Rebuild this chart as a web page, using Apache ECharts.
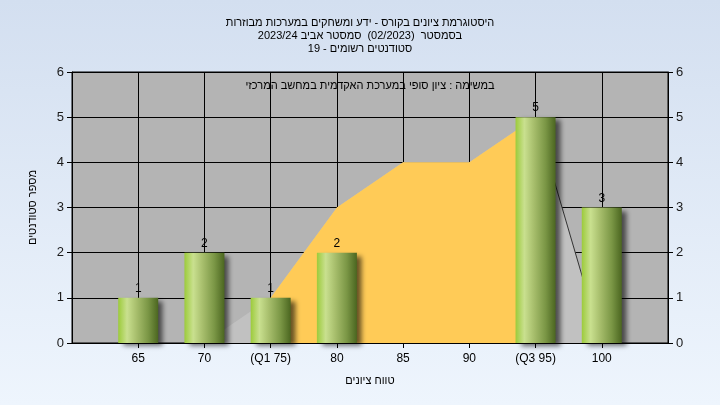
<!DOCTYPE html>
<html>
<head>
<meta charset="utf-8">
<script src="https://cdn.jsdelivr.net/npm/echarts@6/dist/echarts.min.js"></script>
<style>
html,body{margin:0;padding:0;}
#c{width:720px;height:405px;background:linear-gradient(to bottom,#d3dff0,#eef5fd);}
</style>
</head>
<body>
<div id="c"></div>
<script>
// ---- data ----
const scores = [65, 70, 75, 80, 85, 90, 95, 100];
const tickLabels = ['65', '70', '(Q1 75)', '80', '85', '90', '(Q3 95)', '100'];
const counts = [1, 2, 1, 2, 0, 0, 5, 3];
const curve = [0, 0, 1, 3, 4, 4, 5, 0];
const q1Index = 2, q3Index = 6;
const titleLines = [
  'היסטוגרמת ציונים בקורס - ידע ומשחקים במערכות מבוזרות',
  'בסמסטר  (02/2023)  סמסטר אביב 2023/24',
  'סטודנטים רשומים - 19'
];
const subtitleText = 'במשימה : ציון סופי במערכת האקדמית במחשב המרכזי';
const xName = 'טווח ציונים';
const yName = 'מספר סטודנטים';

const FONT = '"Liberation Sans", "DejaVu Sans", Arial, sans-serif';

const chart = echarts.init(document.getElementById('c'), null, {renderer: 'canvas'});

const pairs = arr => scores.map((s, i) => [s, arr[i]]);
const curvePairs = pairs(curve);
const yellowPairs = scores.map((s, i) => (i >= q1Index && i <= q3Index) ? [s, curve[i]] : [s, null]);
const tailPairs = scores.map((s, i) => (i >= q3Index) ? [s, curve[i]] : [s, null]);

const option = {
  backgroundColor: 'transparent',
  animation: false,
  textStyle: {fontFamily: FONT},
  title: {
    text: titleLines.join('\n'),
    left: 'center',
    top: 11,
    textStyle: {fontSize: 11, fontWeight: 'normal', color: '#000', lineHeight: 13, fontFamily: FONT}
  },
  graphic: [{
    type: 'text',
    x: 370, y: 86,
    z: 100,
    style: {text: subtitleText, fill: '#000', font: '11px ' + FONT, textAlign: 'center', textVerticalAlign: 'middle'}
  }],
  grid: {
    left: 72, right: 52, top: 72, bottom: 62,
    show: true, backgroundColor: '#b4b4b4', borderColor: '#000', borderWidth: 1
  },
  xAxis: {
    type: 'value',
    min: 60, max: 105, interval: 5,
    name: xName,
    nameLocation: 'middle',
    nameGap: 32,
    nameTextStyle: {fontSize: 11, color: '#000'},
    axisLine: {show: true, lineStyle: {color: '#000'}},
    axisTick: {show: true, length: 5, lineStyle: {color: '#000'}},
    splitLine: {show: true, lineStyle: {color: '#000', width: 1}},
    axisLabel: {
      fontSize: 12, color: '#000', margin: 10,
      showMinLabel: false, showMaxLabel: false,
      formatter: v => { const i = scores.indexOf(v); return i >= 0 ? tickLabels[i] : ''; }
    }
  },
  yAxis: [{
    type: 'value', min: 0, max: 6, interval: 1, position: 'left',
    name: yName, nameLocation: 'middle', nameGap: 34,
    nameTextStyle: {fontSize: 11, color: '#000'},
    axisLine: {show: true, lineStyle: {color: '#000'}},
    axisTick: {show: true, length: 5, lineStyle: {color: '#000'}},
    splitLine: {show: true, lineStyle: {color: '#000', width: 1}},
    axisLabel: {fontSize: 13, color: '#1a1a1a', margin: 8}
  }, {
    type: 'value', min: 0, max: 6, interval: 1, position: 'right',
    axisLine: {show: true, lineStyle: {color: '#000'}},
    axisTick: {show: true, length: 5, lineStyle: {color: '#000'}},
    splitLine: {show: false},
    axisLabel: {fontSize: 13, color: '#1a1a1a', margin: 8}
  }],
  series: [{
    type: 'line',
    data: curvePairs,
    symbol: 'none',
    lineStyle: {width: 0},
    areaStyle: {color: '#c1c1c1', opacity: 1},
    z: 1
  }, {
    type: 'line',
    data: yellowPairs,
    symbol: 'none',
    connectNulls: false,
    lineStyle: {width: 0},
    areaStyle: {color: '#ffcb57', opacity: 1},
    z: 2
  }, {
    type: 'line',
    data: tailPairs,
    symbol: 'none',
    lineStyle: {width: 1, color: '#333'},
    z: 3
  }, {
    type: 'bar',
    data: pairs(counts),
    barWidth: 40,
    z: 5,
    itemStyle: {
      color: {
        type: 'linear', x: 0, y: 0, x2: 1, y2: 0,
        colorStops: [
          {offset: 0, color: '#9ccb3b'},
          {offset: 0.22, color: '#c9e08f'},
          {offset: 0.45, color: '#a8bf6d'},
          {offset: 0.75, color: '#7a9645'},
          {offset: 1, color: '#4b6620'}
        ]
      },
      shadowColor: 'rgba(0,0,0,0.6)',
      shadowBlur: 5,
      shadowOffsetX: 5,
      shadowOffsetY: 3
    },
    label: {
      show: true, position: 'top', distance: 3,
      fontSize: 12, color: '#000',
      formatter: p => p.value[1] > 0 ? String(p.value[1]) : ''
    }
  }]
};
chart.setOption(option);
</script>
</body>
</html>
